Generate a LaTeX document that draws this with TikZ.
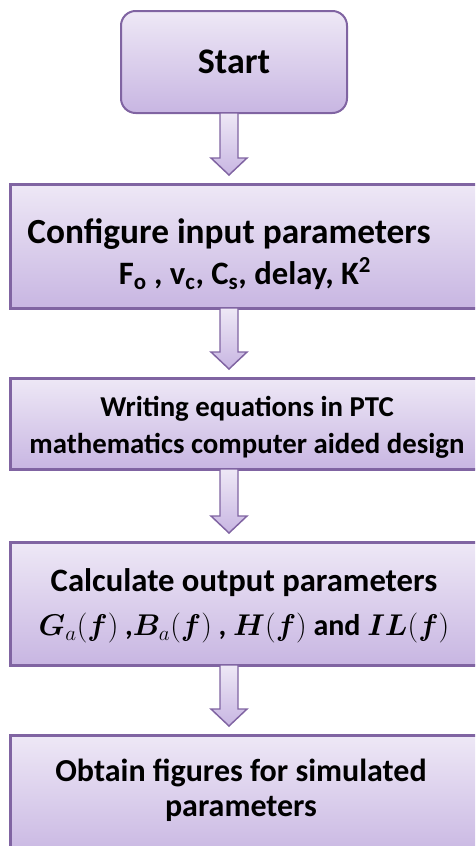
\RequirePackage{fix-cm}
\documentclass[tikz,border=0pt]{standalone}
\usepackage{fontspec}
\setmainfont{Carlito}
\usepackage{bm}
\usetikzlibrary{calc}

\definecolor{boxline}{RGB}{128,100,162}
\definecolor{boxtop}{RGB}{238,232,246}
\definecolor{boxbot}{RGB}{200,182,226}

\begin{document}
\begin{tikzpicture}[x=0.75pt,y=-0.75pt]
\tikzstyle{stepbox} = [
 outer sep=0pt,
 top color=boxtop,
 bottom color=boxbot,
 minimum width=412.5pt
]
\tikzstyle{stepline} = [
 draw=boxline,
 line width=2.25pt
]
\tikzstyle{steptext} = [
 align=center,
 inner sep=0pt
]
\tikzstyle{blockarrow} = [
 draw=boxline,
 line width=1.1pt,
 top color=boxtop,
 bottom color=boxbot,
 to path={let \p1=(\tikztostart), \p2=(\tikztotarget) in
   (\x1-6.75pt,\y1) -- (\x1-6.75pt,\y2+19.5pt) -- (\x1-13.5pt,\y2+19.5pt)
   -- (\x1,\y2+6.75pt) -- (\x1+13.5pt,\y2+19.5pt) -- (\x1+6.75pt,\y2+19.5pt)
   -- (\x1+6.75pt,\y1) -- cycle}
]
\useasboundingbox (0,0) rectangle (475,846);
\clip (0,0) rectangle (475,846);

\node[stepbox, draw=boxline, rounded corners=11pt, line width=1.5pt, minimum width=169.5pt, minimum height=76.5pt,
  font=\bfseries\fontsize{27}{30}\selectfont] at (234,62) (start) {Start};
\coordinate (axis) at (229,0);

% steps: box first, text on top
\node[stepbox, minimum height=93pt] at (285,246) (config) {};
\node[steptext, font=\bfseries\fontsize{26.5}{30.75}\selectfont] at (237,254) (configtxt)
  {Configure input parameters\hspace*{12pt}\\\hspace*{12pt}{\fontsize{24.5}{30.75}\selectfont F\textsubscript{o} , v\textsubscript{c}, C\textsubscript{s}, delay, K\textsuperscript{2}}};

\node[stepbox, minimum height=68.25pt] at (285,423.5) (ptc) {};
\node[steptext, font=\bfseries\fontsize{21.6}{27.75}\selectfont] at (247,427) (ptctxt)
  {Writing equations in PTC\\mathematics computer aided design};

\node[stepbox, minimum height=92.25pt] at (285,603.5) (calc) {};
\node[steptext, font=\bfseries\fontsize{24.5}{33}\selectfont] at (244,606) (calctxt)
  {Calculate output parameters\\{\fontsize{22.5}{33}\selectfont$\bm{G}_a(\bm{f})$ ,$\bm{B}_a(\bm{f})$ , $\bm{H}(\bm{f})$ and $\bm{IL}(\bm{f})$}};

\node[stepbox, minimum height=93pt] at (285,797) (figs) {};
\node[steptext, font=\bfseries\fontsize{24}{26.25}\selectfont] at (241,790) (figstxt)
  {Obtain figures for simulated\\parameters};

% borders, open to the right
\foreach \b in {config,ptc,calc,figs}
  \draw[stepline] (\b.north east) -- (\b.north west) -- (\b.south west) -- (\b.south east);

\path[blockarrow] (start.south -| axis) to (axis |- config.north);
\path[blockarrow] (config.south -| axis) to (axis |- ptc.north);
\path[blockarrow] (ptc.south -| axis) to (axis |- calc.north);
\path[blockarrow] (calc.south -| axis) to (axis |- figs.north);
\end{tikzpicture}
\end{document}
